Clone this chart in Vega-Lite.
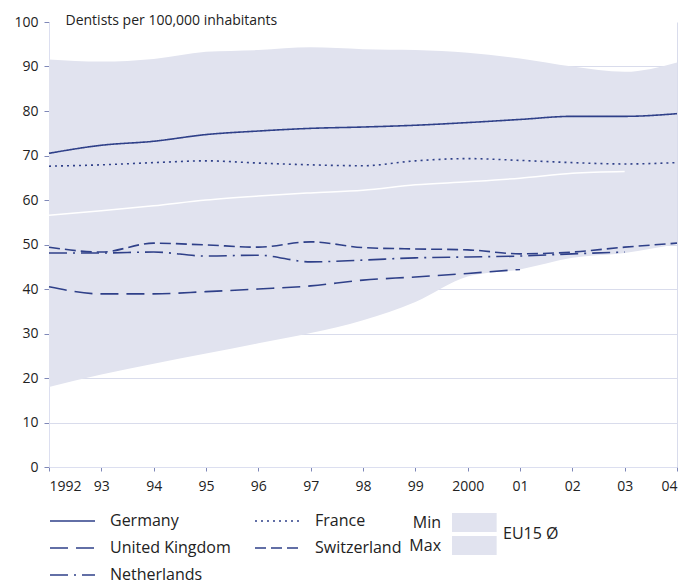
{
  "$schema": "https://vega.github.io/schema/vega-lite/v6.json",
  "width": 628,
  "height": 445,
  "autosize": {"type": "none"},
  "padding": {"left": 49, "top": 22, "right": 12, "bottom": 118},
  "background": "white",
  "config": {
    "font": "Open Sans",
    "view": {"stroke": null},
    "axis": {"zindex": 1, "labelColor": "#222222", "labelFontSize": 14, "tickColor": "#7f88b8", "domainColor": "#dcdff0", "gridColor": "#d9dcec", "titleFontWeight": "normal", "titleColor": "#222222"},
    "axisY": {"titleAngle": 0, "titleX": 16, "titleY": -2, "titleAlign": "left", "titleBaseline": "middle", "titleFontSize": 14, "tickSize": 5, "labelPadding": 6}
  },
  "datasets": {
    "eu15": [
      {"year": 1992, "min": 18.0, "max": 91.6, "avg": 56.6},
      {"year": 1993, "min": 20.8, "max": 91.1, "avg": 57.6},
      {"year": 1994, "min": 23.2, "max": 91.7, "avg": 58.7},
      {"year": 1995, "min": 25.5, "max": 93.3, "avg": 60.0},
      {"year": 1996, "min": 27.8, "max": 93.7, "avg": 60.9},
      {"year": 1997, "min": 30.1, "max": 94.3, "avg": 61.6},
      {"year": 1998, "min": 33.0, "max": 93.9, "avg": 62.2},
      {"year": 1999, "min": 37.1, "max": 93.7, "avg": 63.4},
      {"year": 2000, "min": 42.8, "max": 93.1, "avg": 64.1},
      {"year": 2001, "min": 44.4, "max": 91.8, "avg": 64.9},
      {"year": 2002, "min": 47.0, "max": 90.0, "avg": 66.0},
      {"year": 2003, "min": 48.1, "max": 88.8, "avg": 66.4},
      {"year": 2004, "min": 50.1, "max": 90.9}
    ],
    "countries": [
      {"country": "Germany", "year": 1992, "value": 70.5},
      {"country": "Germany", "year": 1993, "value": 72.3},
      {"country": "Germany", "year": 1994, "value": 73.2},
      {"country": "Germany", "year": 1995, "value": 74.7},
      {"country": "Germany", "year": 1996, "value": 75.5},
      {"country": "Germany", "year": 1997, "value": 76.1},
      {"country": "Germany", "year": 1998, "value": 76.4},
      {"country": "Germany", "year": 1999, "value": 76.8},
      {"country": "Germany", "year": 2000, "value": 77.4},
      {"country": "Germany", "year": 2001, "value": 78.1},
      {"country": "Germany", "year": 2002, "value": 78.8},
      {"country": "Germany", "year": 2003, "value": 78.8},
      {"country": "Germany", "year": 2004, "value": 79.4},
      {"country": "France", "year": 1992, "value": 67.6},
      {"country": "France", "year": 1993, "value": 67.9},
      {"country": "France", "year": 1994, "value": 68.4},
      {"country": "France", "year": 1995, "value": 68.8},
      {"country": "France", "year": 1996, "value": 68.3},
      {"country": "France", "year": 1997, "value": 67.9},
      {"country": "France", "year": 1998, "value": 67.7},
      {"country": "France", "year": 1999, "value": 68.8},
      {"country": "France", "year": 2000, "value": 69.3},
      {"country": "France", "year": 2001, "value": 68.9},
      {"country": "France", "year": 2002, "value": 68.4},
      {"country": "France", "year": 2003, "value": 68.1},
      {"country": "France", "year": 2004, "value": 68.4},
      {"country": "United Kingdom", "year": 1992, "value": 40.5},
      {"country": "United Kingdom", "year": 1993, "value": 38.9},
      {"country": "United Kingdom", "year": 1994, "value": 38.9},
      {"country": "United Kingdom", "year": 1995, "value": 39.4},
      {"country": "United Kingdom", "year": 1996, "value": 40.0},
      {"country": "United Kingdom", "year": 1997, "value": 40.7},
      {"country": "United Kingdom", "year": 1998, "value": 42.0},
      {"country": "United Kingdom", "year": 1999, "value": 42.7},
      {"country": "United Kingdom", "year": 2000, "value": 43.5},
      {"country": "United Kingdom", "year": 2001, "value": 44.4},
      {"country": "Switzerland", "year": 1992, "value": 49.4},
      {"country": "Switzerland", "year": 1993, "value": 48.3},
      {"country": "Switzerland", "year": 1994, "value": 50.3},
      {"country": "Switzerland", "year": 1995, "value": 49.9},
      {"country": "Switzerland", "year": 1996, "value": 49.4},
      {"country": "Switzerland", "year": 1997, "value": 50.6},
      {"country": "Switzerland", "year": 1998, "value": 49.3},
      {"country": "Switzerland", "year": 1999, "value": 49.0},
      {"country": "Switzerland", "year": 2000, "value": 48.8},
      {"country": "Switzerland", "year": 2001, "value": 47.9},
      {"country": "Switzerland", "year": 2002, "value": 48.3},
      {"country": "Switzerland", "year": 2003, "value": 49.4},
      {"country": "Switzerland", "year": 2004, "value": 50.3},
      {"country": "Netherlands", "year": 1992, "value": 48.1},
      {"country": "Netherlands", "year": 1993, "value": 48.1},
      {"country": "Netherlands", "year": 1994, "value": 48.3},
      {"country": "Netherlands", "year": 1995, "value": 47.4},
      {"country": "Netherlands", "year": 1996, "value": 47.6},
      {"country": "Netherlands", "year": 1997, "value": 46.1},
      {"country": "Netherlands", "year": 1998, "value": 46.5},
      {"country": "Netherlands", "year": 1999, "value": 47.0},
      {"country": "Netherlands", "year": 2000, "value": 47.2},
      {"country": "Netherlands", "year": 2001, "value": 47.4},
      {"country": "Netherlands", "year": 2002, "value": 47.9},
      {"country": "Netherlands", "year": 2003, "value": 48.3}
    ]
  },
  "layer": [
    {
      "data": {"name": "eu15"},
      "mark": {"type": "area", "interpolate": "monotone"},
      "encoding": {
        "x": {"field": "year", "type": "quantitative", "title": null,
          "scale": {"domain": [1992, 2004], "nice": false, "zero": false},
          "axis": {"values": [1992,1993,1994,1995,1996,1997,1998,1999,2000,2001,2002,2003,2004], "format": "d",
            "labelExpr": "datum.value == 1992 || datum.value == 2000 ? datum.label : slice(datum.label, 2)",
            "tickSize": 4, "labelPadding": 8, "grid": true,
            "gridOpacity": {"condition": {"test": "datum.value == 2004", "value": 1}, "value": 0}}},
        "y": {"field": "max", "type": "quantitative", "title": "Dentists per 100,000 inhabitants",
          "scale": {"domain": [0, 100], "nice": false},
          "axis": {"values": [0,10,20,30,40,50,60,70,80,90,100], "grid": true,
            "gridOpacity": {"condition": {"test": "datum.value == 100", "value": 0}, "value": 1}}},
        "y2": {"field": "min"},
        "fill": {"datum": "Min", "type": "nominal",
          "scale": {"domain": ["Min", "Max"], "range": ["#e1e3ef", "#e1e3ef"]},
          "legend": {"orient": "none", "legendX": 403, "legendY": 491, "direction": "vertical", "title": "EU15 Ø", "titleOrient": "right",
            "titleFontSize": 16, "titleFontWeight": "normal", "titleColor": "#222222", "titleAnchor": "middle", "titleBaseline": "middle", "titlePadding": 6,
            "symbolType": "M-1,-1H3.7V1H-1Z", "symbolSize": 361, "symbolFillColor": "#e1e3ef", "symbolStrokeWidth": 0,
            "labelFontSize": 16, "labelColor": "#222222", "labelAlign": "right", "labelOffset": -30, "rowPadding": 4}}
      }
    },
    {
      "data": {"name": "eu15"},
      "mark": {"type": "line", "color": "white", "strokeWidth": 1.5, "interpolate": "monotone"},
      "encoding": {
        "x": {"field": "year", "type": "quantitative", "title": null},
        "y": {"field": "avg", "type": "quantitative", "title": "Dentists per 100,000 inhabitants"}
      }
    },
    {
      "data": {"name": "countries"},
      "mark": {"type": "line", "color": "#2f4089", "strokeWidth": 1.6, "interpolate": "monotone"},
      "encoding": {
        "x": {"field": "year", "type": "quantitative", "title": null},
        "y": {"field": "value", "type": "quantitative", "title": "Dentists per 100,000 inhabitants"},
        "strokeDash": {"field": "country", "type": "nominal",
          "scale": {"domain": ["Germany", "France", "United Kingdom", "Switzerland", "Netherlands"],
            "range": [[1, 0], [2, 4], [18, 8], [11, 5], [18, 6, 2, 6]]},
          "legend": {"orient": "none", "legendX": 0, "legendY": 489, "direction": "horizontal", "columns": 2, "title": null,
            "symbolType": "M-1,0H4", "symbolSize": 324, "symbolStrokeWidth": 1.6, "symbolStrokeColor": "#2f4089",
            "labelFontSize": 16, "labelColor": "#222222", "labelOffset": 41, "columnPadding": 20, "rowPadding": 9}}
      }
    }
  ]
}
